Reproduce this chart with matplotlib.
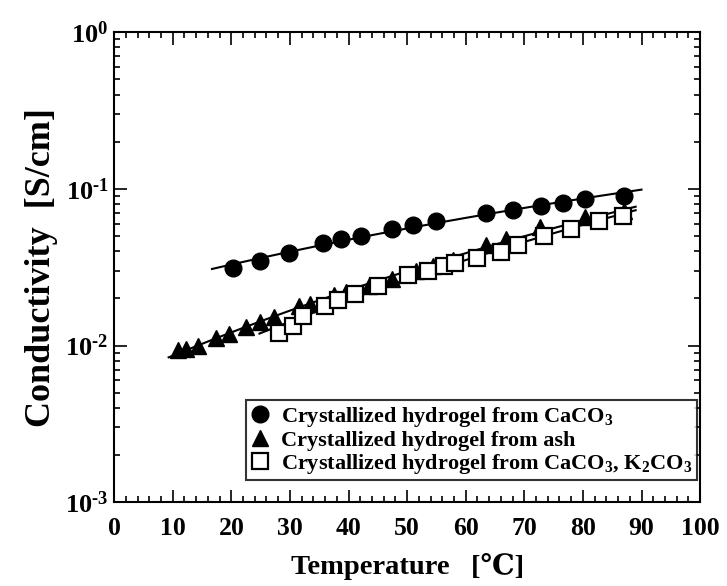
"""Conductivity vs temperature for crystallized hydrogels"""

import numpy as np
import matplotlib
matplotlib.use('Agg')
from matplotlib import pyplot as plt
from matplotlib.ticker import MultipleLocator, LogLocator, FixedLocator, NullFormatter

plt.rcParams['font.family'] = ['Liberation Serif', 'DejaVu Serif']
plt.rcParams['font.weight'] = 'bold'
plt.rcParams['mathtext.fontset'] = 'custom'
plt.rcParams['mathtext.rm'] = 'Liberation Serif:bold'
plt.rcParams['mathtext.bf'] = 'Liberation Serif:bold'
plt.rcParams['mathtext.it'] = 'Liberation Serif:bold'
plt.rcParams['mathtext.default'] = 'bf'

# data
T_caco3 = [20.2, 24.9, 29.9, 35.7, 38.8, 42.2, 47.4, 51.0, 55.0, 63.5, 68.0, 72.8, 76.6, 80.3, 87.0]
S_caco3 = [0.0313, 0.0349, 0.039, 0.045, 0.0476, 0.0503, 0.0553, 0.0586, 0.0625, 0.070, 0.0738, 0.0783, 0.0818, 0.0863, 0.0898]

T_ash = [10.9, 12.2, 14.3, 17.4, 19.6, 22.5, 24.9, 27.2, 31.6, 33.4, 37.6, 39.6, 43.5, 47.4, 51.5, 54.4, 57.8, 63.5, 66.9, 72.7, 80.3, 87.0]
S_ash = [0.0093, 0.0095, 0.0100, 0.0112, 0.0119, 0.0132, 0.0141, 0.0152, 0.0180, 0.0184, 0.0209, 0.0219, 0.0241, 0.0266, 0.0297, 0.0324, 0.0352, 0.0441, 0.048, 0.0569, 0.0659, 0.072]

T_k2co3 = [28.1, 30.5, 32.3, 36.0, 38.2, 41.1, 45.1, 50.1, 53.6, 56.3, 58.1, 62.0, 66.1, 69.0, 73.4, 77.9, 82.7, 86.8]
S_k2co3 = [0.0120, 0.0134, 0.0155, 0.0180, 0.0194, 0.0214, 0.0239, 0.0280, 0.0300, 0.0320, 0.0335, 0.0363, 0.0398, 0.0441, 0.0503, 0.0556, 0.0628, 0.0676]

# fit ranges (deg C)
fit_caco3 = (16.7, 90.0)
fit_ash = (9.3, 89.0)
fit_k2co3 = (24.8, 89.0)

labels = ['Crystallized hydrogel from CaCO$_3$',
          'Crystallized hydrogel from ash',
          'Crystallized hydrogel from CaCO$_3$, K$_2$CO$_3$']
ytick_labels = [r'$10^{\text{-3}}$', r'$10^{\text{-2}}$', r'$10^{\text{-1}}$', r'$10^{0}$']


def arrhenius_fit(T, S, rng):
    # log10(sigma) linear in 1/T(K)
    invT = 1.0 / (np.array(T) + 273.15)
    p = np.polyfit(invT, np.log10(S), 1)
    tt = np.linspace(rng[0], rng[1], 100)
    return tt, 10 ** np.polyval(p, 1.0 / (tt + 273.15))


fig = plt.figure(figsize=(7.27, 5.86), dpi=100)
ax = fig.add_axes([0.157, 0.143, 0.806, 0.802])

for T, S, rng in [(T_caco3, S_caco3, fit_caco3), (T_ash, S_ash, fit_ash), (T_k2co3, S_k2co3, fit_k2co3)]:
    tt, ss = arrhenius_fit(T, S, rng)
    ax.plot(tt, ss, color='black', lw=1.5, zorder=1)

ax.plot(T_caco3, S_caco3, 'o', color='black', ms=12, ls='none', label=labels[0], zorder=3)
ax.plot(T_ash, S_ash, '^', color='black', ms=12, ls='none', label=labels[1], zorder=2)
ax.plot(T_k2co3, S_k2co3, 's', mfc='white', mec='black', mew=1.6, ms=12, ls='none', label=labels[2], zorder=4)

ax.set_yscale('log')
ax.set_xlim(0, 100)
ax.set_ylim(1e-3, 1)

ax.xaxis.set_major_locator(MultipleLocator(10))
ax.xaxis.set_minor_locator(MultipleLocator(2))
ax.yaxis.set_major_locator(FixedLocator([1e-3, 1e-2, 1e-1, 1]))
ax.yaxis.set_minor_locator(LogLocator(base=10, subs=np.arange(2, 10)))
ax.yaxis.set_minor_formatter(NullFormatter())
ax.set_yticklabels(ytick_labels)

ax.tick_params(which='both', direction='in', top=True, right=True, width=1.2)
ax.tick_params(which='major', length=9)
ax.tick_params(which='minor', length=4.5)
ax.tick_params(axis='x', which='major', labelsize=18.5, pad=11)
ax.tick_params(axis='y', which='major', labelsize=19, pad=4)
for lab in ax.get_xticklabels() + ax.get_yticklabels():
    lab.set_fontweight('bold')
for sp in ax.spines.values():
    sp.set_linewidth(1.5)

ax.set_xlabel('Temperature   [\u2103]', fontsize=20.5, fontweight='bold', labelpad=9)
ax.set_ylabel('Conductivity  [S/cm]', fontsize=26, fontweight='bold', labelpad=5)

leg = ax.legend(loc='lower right', bbox_to_anchor=(0.995, 0.047), borderaxespad=0,
                frameon=True, fancybox=False, edgecolor='black', borderpad=0.2,
                handletextpad=0.5, labelspacing=0.05, handlelength=0.9,
                prop={'weight': 'bold', 'size': 16})
leg.get_frame().set_linewidth(1.5)

fig.savefig('out.png', dpi=100)
